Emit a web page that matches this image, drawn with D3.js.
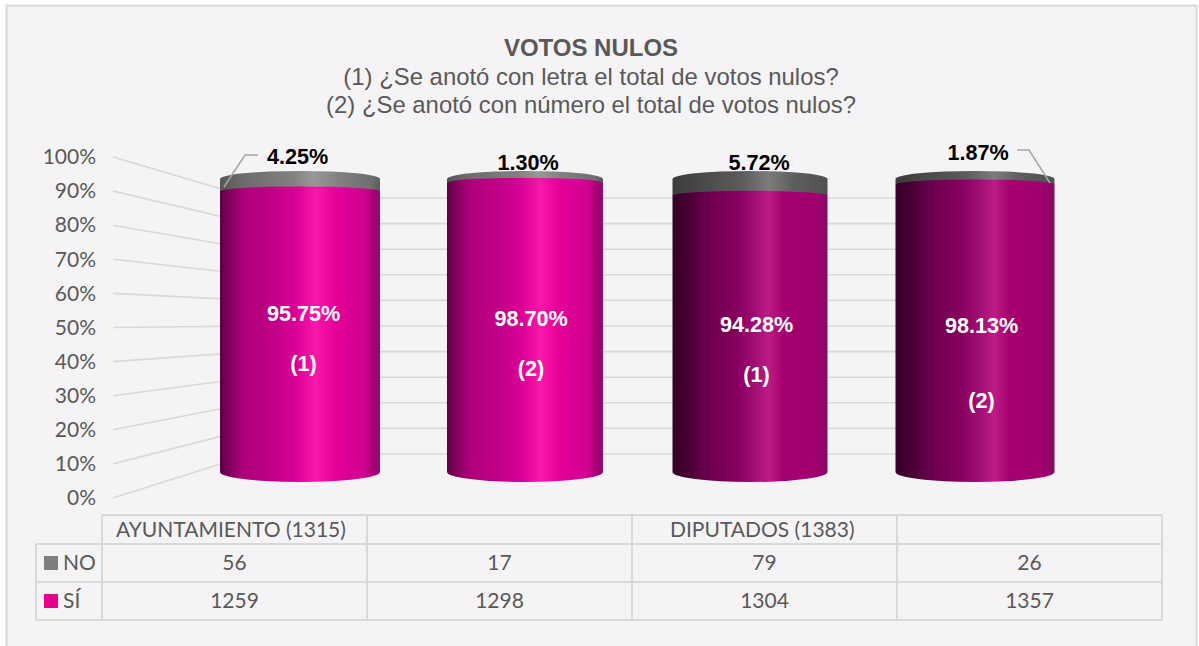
<!DOCTYPE html>
<html>
<head>
<meta charset="utf-8">
<title>Votos nulos</title>
<script src="https://cdn.jsdelivr.net/npm/d3@7"></script>
<style>
    html, body { margin: 0; padding: 0; background: #fff; }
    svg { display: block; }
</style>
</head>
<body>
<div id="chart"></div>
<script>
// chart values
const groups = ["AYUNTAMIENTO (1315)", "", "DIPUTADOS (1383)", ""];
const questions = ["(1)", "(2)", "(1)", "(2)"];
const noCounts = [56, 17, 79, 26];
const siCounts = [1259, 1298, 1304, 1357];
const noPercent = [4.25, 1.30, 5.72, 1.87];
const siPercent = [95.75, 98.70, 94.28, 98.13];
const yTicks = [0, 10, 20, 30, 40, 50, 60, 70, 80, 90, 100];
const titleLines = [
    "(1) ¿Se anotó con letra el total de votos nulos?",
    "(2) ¿Se anotó con número el total de votos nulos?"
];

// layout per cylinder, kept apart from the values
const cylWidths = [160, 156, 155, 159];
const cylThemes = ["light", "light", "dark", "dark"];
const inOffsetX = [3.5, 6, 6.5, 6.5];
const inPctY = [313, 318, 324, 325];
const inQuestionY = [363, 368, 374, 400];
const groupOffsetX = [14, 0, 38, 0];
const outLabels = [
    { x: 297.5, y: 156, leader: [[224, 187], [245, 155], [258, 155]] },
    { x: 528, y: 162, leader: null },
    { x: 759, y: 162, leader: null },
    { x: 978, y: 152, leader: [[1017, 150], [1029, 150], [1050, 183]] }
];

const width = 1199, height = 646;
const svg = d3.select("#chart").append("svg")
    .attr("width", width)
    .attr("height", height);

const defs = svg.append("defs");

function addGradient(id, stops) {
    const g = defs.append("linearGradient")
        .attr("id", id)
        .attr("x1", "0%").attr("x2", "100%")
        .attr("y1", "0%").attr("y2", "0%");
    stops.forEach(s => g.append("stop").attr("offset", s[0]).attr("stop-color", s[1]));
}

addGradient("pink-light", [
    [0, "#5c0042"], [0.05, "#7e0058"], [0.14, "#ac0078"], [0.35, "#c40088"],
    [0.48, "#dc0096"], [0.6, "#f918a9"], [0.72, "#e4009a"], [0.9, "#d20090"],
    [0.97, "#a00070"], [1, "#8c1064"]
]);
addGradient("pink-dark", [
    [0, "#38002a"], [0.07, "#40002e"], [0.22, "#68004c"], [0.42, "#88005f"],
    [0.54, "#a30f76"], [0.62, "#bc1c86"], [0.72, "#a6006f"], [0.95, "#9e006c"],
    [1, "#7c1060"]
]);
addGradient("gray-light", [
    [0, "#555555"], [0.12, "#6a6a6a"], [0.45, "#808080"], [0.58, "#989898"],
    [0.75, "#808080"], [0.95, "#6e6e6e"], [1, "#5c5c5c"]
]);
addGradient("gray-dark", [
    [0, "#3c3c3c"], [0.2, "#4a4a4a"], [0.45, "#5c5c5c"], [0.62, "#7c7c7c"],
    [0.78, "#5e5e5e"], [1, "#505050"]
]);

// panel
svg.append("rect")
    .attr("x", 6.5).attr("y", 5.5)
    .attr("width", 1190).attr("height", 645)
    .attr("fill", "#f5f3f5")
    .attr("stroke", "#d9d9d9")
    .attr("stroke-width", 2);

// title
const title = svg.append("g")
    .attr("text-anchor", "middle")
    .style("font-family", "'Liberation Sans', Arial, sans-serif")
    .attr("fill", "#595959");
title.append("text")
    .attr("x", 591).attr("y", 56)
    .style("font-size", "24px")
    .style("font-weight", "bold")
    .text("VOTOS NULOS");
title.selectAll("text.sub")
    .data(titleLines)
    .enter().append("text")
    .attr("class", "sub")
    .attr("x", 591)
    .attr("y", (d, i) => 84.5 + i * 28.5)
    .style("font-size", "23.9px")
    .text(d => d);

// scales: front edge of the side wall, back wall, and the cylinder height
const yFront = d3.scaleLinear().domain([0, 100]).range([498, 157]);
const yBack = d3.scaleLinear().domain([0, 100]).range([454, 198]);
const yCyl = d3.scaleLinear().domain([0, 100]).range([472, 179]);
const xBand = d3.scaleBand().domain(d3.range(4)).range([187.5, 1087.5]);
const wallFront = 113, wallBack = 252, wallEnd = 1040;

const grid = svg.append("g")
    .attr("fill", "none")
    .attr("stroke", "#d9d9d9")
    .attr("stroke-width", 1.6);
grid.selectAll("line.side")
    .data(yTicks)
    .enter().append("line")
    .attr("class", "side")
    .attr("x1", wallFront).attr("x2", wallBack)
    .attr("y1", d => yFront(d)).attr("y2", d => yBack(d));
grid.selectAll("line.back")
    .data(yTicks)
    .enter().append("line")
    .attr("class", "back")
    .attr("x1", wallBack).attr("x2", wallEnd)
    .attr("y1", d => yBack(d)).attr("y2", d => yBack(d));

// y axis labels
const yAxis = svg.append("g")
    .attr("transform", "translate(96,0)")
    .call(d3.axisLeft(yFront).tickValues(yTicks).tickSize(0).tickPadding(0).tickFormat(d => d + "%"));
yAxis.select(".domain").remove();
yAxis.selectAll("text")
    .attr("fill", "#595959")
    .style("font-family", "Lato, sans-serif")
    .style("font-size", "21px");

// cylinders
const topRy = 8, midRy = 5, bottomRy = 10;
const cyl = svg.selectAll("g.cyl")
    .data(siPercent)
    .enter().append("g")
    .attr("class", "cyl");

cyl.append("path")
    .attr("fill", (d, i) => `url(#gray-${cylThemes[i]})`)
    .attr("d", (d, i) => {
        const rx = cylWidths[i] / 2;
        const cx = xBand(i) + xBand.bandwidth() / 2;
        const top = yCyl(100), y = yCyl(d);
        return `M${cx - rx},${top} A${rx},${topRy} 0 0 1 ${cx + rx},${top} L${cx + rx},${y} L${cx - rx},${y} Z`;
    });

cyl.append("path")
    .attr("fill", (d, i) => `url(#pink-${cylThemes[i]})`)
    .attr("d", (d, i) => {
        const rx = cylWidths[i] / 2;
        const cx = xBand(i) + xBand.bandwidth() / 2;
        const y = yCyl(d), base = yCyl(0);
        return `M${cx - rx},${y} A${rx},${midRy} 0 0 1 ${cx + rx},${y} L${cx + rx},${base} A${rx},${bottomRy} 0 0 1 ${cx - rx},${base} Z`;
    });

// labels inside the cylinders
const boldFont = "'Liberation Sans', Arial, sans-serif";
const inside = svg.append("g")
    .attr("text-anchor", "middle")
    .attr("fill", "#ffffff")
    .style("font-family", boldFont)
    .style("font-weight", "bold")
    .style("font-size", "21.6px");
inside.selectAll("text.pct")
    .data(siPercent)
    .enter().append("text")
    .attr("class", "pct")
    .attr("x", (d, i) => xBand(i) + xBand.bandwidth() / 2 + inOffsetX[i])
    .attr("y", (d, i) => inPctY[i] + 8)
    .text(d => d3.format(".2f")(d) + "%");
inside.selectAll("text.question")
    .data(questions)
    .enter().append("text")
    .attr("class", "question")
    .attr("x", (d, i) => xBand(i) + xBand.bandwidth() / 2 + inOffsetX[i])
    .attr("y", (d, i) => inQuestionY[i] + 8)
    .text(d => d);

// labels above the cylinders, two of them with leader lines
const line = d3.line();
svg.selectAll("path.leader")
    .data(outLabels.filter(d => d.leader))
    .enter().append("path")
    .attr("class", "leader")
    .attr("fill", "none")
    .attr("stroke", "#a6a6a6")
    .attr("stroke-width", 1.5)
    .attr("d", d => line(d.leader));
svg.append("g")
    .attr("text-anchor", "middle")
    .attr("fill", "#000000")
    .style("font-family", boldFont)
    .style("font-weight", "bold")
    .style("font-size", "21.6px")
    .selectAll("text")
    .data(noPercent)
    .enter().append("text")
    .attr("x", (d, i) => outLabels[i].x)
    .attr("y", (d, i) => outLabels[i].y + 8)
    .text(d => d3.format(".2f")(d) + "%");

// data table under the chart
const colX = d3.scaleLinear().domain([0, 4]).range([102, 1162]);
const rowY = [515, 544, 582, 620];
const labelLeft = 36;
const tableFont = "Lato, sans-serif";
const table = svg.append("g")
    .attr("stroke", "#d9d9d9")
    .attr("stroke-width", 2);
rowY.forEach((y, i) => {
    table.append("line")
        .attr("x1", i === 0 ? colX(0) : labelLeft).attr("x2", colX(4))
        .attr("y1", y).attr("y2", y);
});
d3.range(5).forEach(c => {
    table.append("line")
        .attr("x1", colX(c)).attr("x2", colX(c))
        .attr("y1", rowY[0]).attr("y2", rowY[3]);
});
table.append("line")
    .attr("x1", labelLeft).attr("x2", labelLeft)
    .attr("y1", rowY[1]).attr("y2", rowY[3]);

const cells = svg.append("g")
    .attr("fill", "#595959")
    .style("font-family", tableFont)
    .style("font-size", "21px");
cells.selectAll("text.group")
    .data(groups)
    .enter().append("text")
    .attr("class", "group")
    .attr("x", (d, i) => colX(i) + groupOffsetX[i])
    .attr("y", 537)
    .text(d => d);
[noCounts, siCounts].forEach((row, r) => {
    cells.selectAll("text.row" + r)
        .data(row)
        .enter().append("text")
        .attr("class", "row" + r)
        .attr("text-anchor", "middle")
        .attr("x", (d, i) => (colX(i) + colX(i + 1)) / 2)
        .attr("y", rowY[r + 1] + 26)
        .text(d => d);
});

const legend = [["NO", "#7f7f7f"], ["SÍ", "#e6008c"]];
legend.forEach((item, r) => {
    svg.append("rect")
        .attr("x", 44).attr("y", rowY[r + 1] + 12)
        .attr("width", 14).attr("height", 14)
        .attr("fill", item[1]);
    cells.append("text")
        .attr("x", 63)
        .attr("y", rowY[r + 1] + 26)
        .text(item[0]);
});
</script>
</body>
</html>
